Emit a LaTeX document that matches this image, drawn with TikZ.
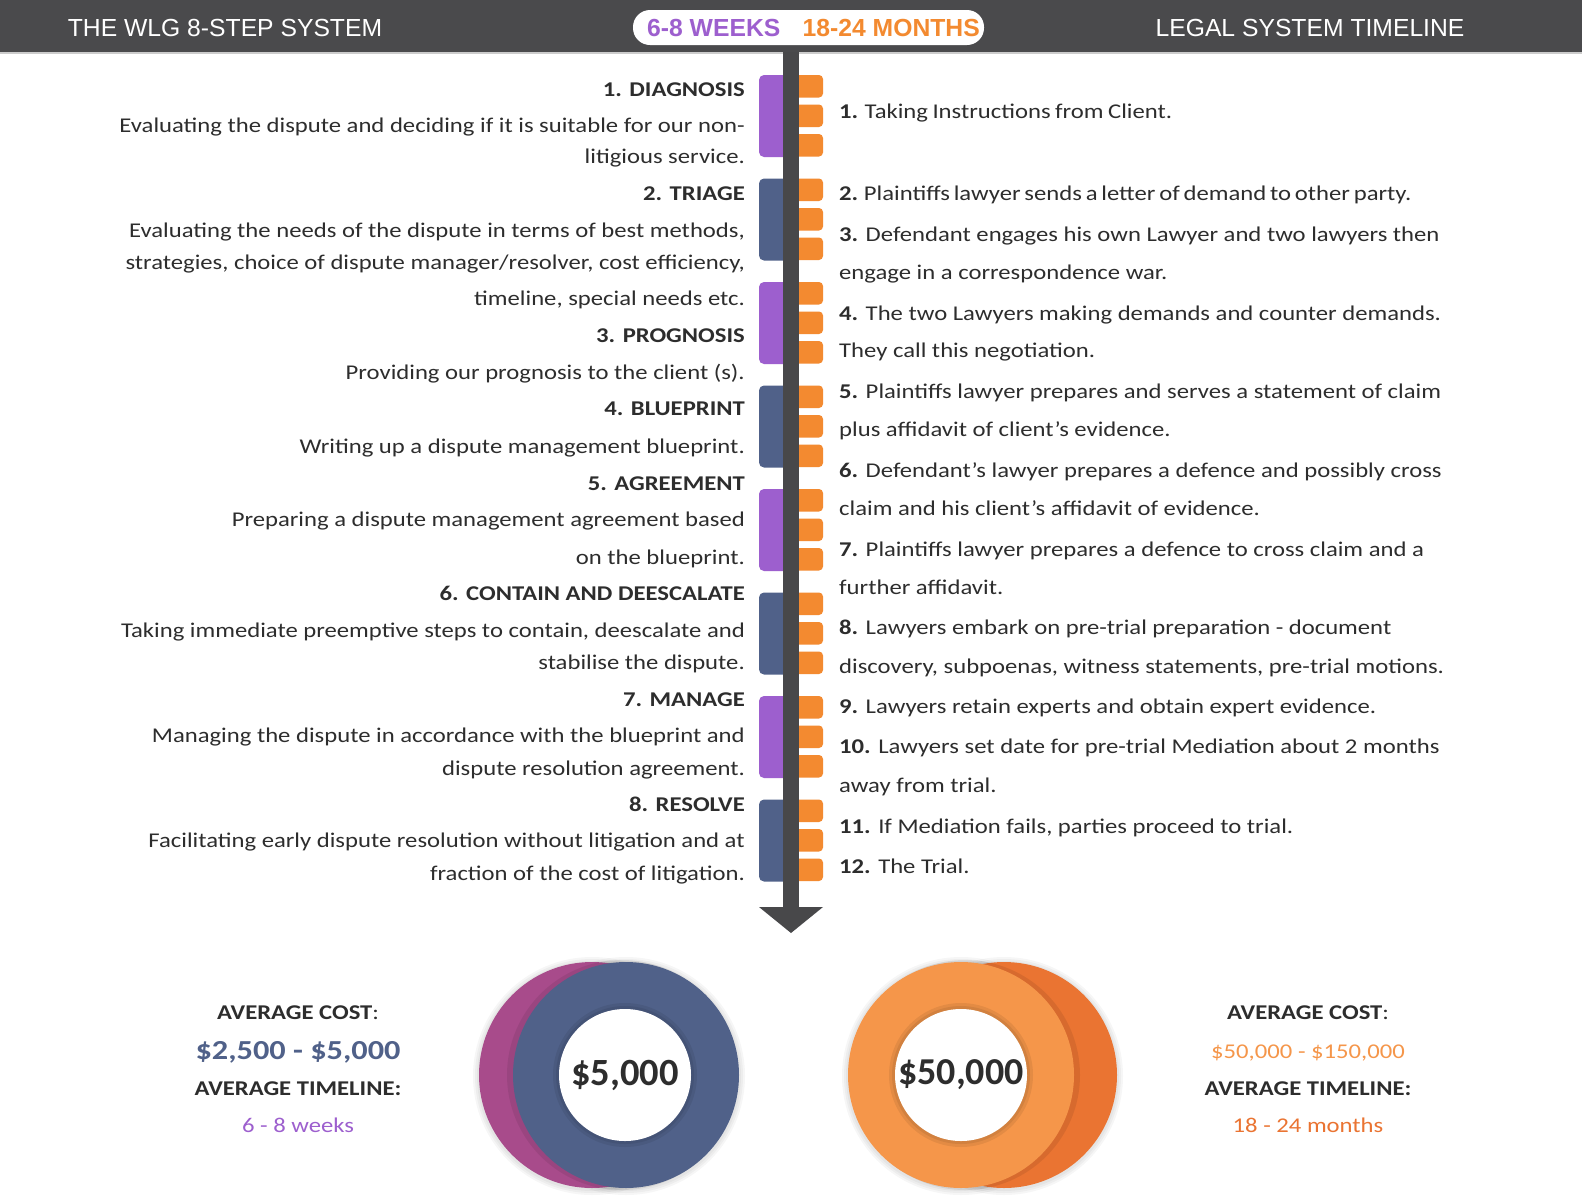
\documentclass[tikz,border=0pt]{standalone}
\usepackage{fontspec}
\setmainfont{Carlito}[FakeStretch=1.175]
\newfontfamily\ringfont{Carlito}
\newfontfamily\headfont{Liberation Sans}
\definecolor{bargray}{RGB}{74, 74, 76}
\definecolor{spinegray}{RGB}{72, 72, 74}
\definecolor{wlgpurple}{RGB}{157, 95, 206}
\definecolor{wlgblue}{RGB}{80, 97, 137}
\definecolor{wlgmagenta}{RGB}{168, 75, 139}
\definecolor{legalorange}{RGB}{243, 138, 48}
\definecolor{lightorange}{RGB}{245, 150, 74}
\definecolor{darkorange}{RGB}{234, 116, 50}
\definecolor{textdark}{RGB}{45, 45, 45}
\usetikzlibrary{positioning}
\tikzset{
	headtext/.style={text=white, inner sep=0pt, font=\headfont\fontsize{24.7}{28}\selectfont},
	pilltext/.style={inner sep=0pt, font=\headfont\bfseries\fontsize{24.7}{28}\selectfont},
	steptitle/.style={anchor=base east, inner sep=0pt, text=textdark, font=\bfseries\fontsize{21}{24}\selectfont},
	stepline/.style={anchor=base east, inner sep=0pt, text=textdark, font=\fontsize{21}{24}\selectfont},
	legalline/.style={anchor=base west, inner sep=0pt, text=textdark, font=\fontsize{21}{24}\selectfont},
	costhead/.style={anchor=base, inner sep=0pt, text=textdark, font=\bfseries\fontsize{21}{24}\selectfont},
	costvalue/.style={anchor=base, inner sep=0pt, font=\fontsize{21}{24}\selectfont},
	ringlabel/.style={inner sep=0pt, text=textdark, font=\ringfont\bfseries\fontsize{38.5}{42}\selectfont},
	ringshadow/.style={fill=black, opacity=0.035},
}

\begin{document}
\begin{tikzpicture}[x=1pt, y=-1pt]
	\useasboundingbox (0,0) rectangle (1582,1200);
	\fill[white] (0,0) rectangle (1582,1200);
	% header bar
	\fill[bargray] (0,0) rectangle (1582,52);
	\draw[black!20, line width=1.5pt] (0,53) -- (1582,53);
	\node[headtext] (wlghead) at (225,28) {THE WLG 8-STEP SYSTEM};
	\node[headtext] (legalhead) at (1310,28) {LEGAL SYSTEM TIMELINE};
	\fill[white, rounded corners=17pt] (633,10) rectangle (984,45);
	\node[pilltext, text=wlgpurple, anchor=west] (weeks) at (647,28) {6-8 WEEKS};
	\node[pilltext, text=legalorange, right=22pt of weeks] (months) {18-24 MONTHS};

	% blocks either side of the spine
	\foreach \i/\c in {0/wlgpurple, 1/wlgblue, 2/wlgpurple, 3/wlgblue, 4/wlgpurple, 5/wlgblue, 6/wlgpurple, 7/wlgblue} {
		\pgfmathsetmacro\top{75+103.5*\i}
		\fill[\c, rounded corners=5pt] (759,\top) rectangle (792,{\top+82});
		\foreach \j in {0,1,2}
			\fill[legalorange, rounded corners=4pt] (790,{\top+29.5*\j}) rectangle (823,{\top+29.5*\j+22.5});
	}
	\fill[spinegray] (783,52) rectangle (799,907);
	\fill[spinegray] (759,907) -- (823,907) -- (791,933) -- cycle;

	% the WLG steps
	\node[steptitle] (s1) at (745,96) {1. DIAGNOSIS};
	\node[stepline] (s1a) at (745,132) {Evaluating the dispute and deciding if it is suitable for our non-};
	\node[stepline] (s1b) at (745,163.5) {litigious service.};
	\node[steptitle] (s2) at (745,200) {2. TRIAGE};
	\node[stepline] (s2a) at (745,237) {Evaluating the needs of the dispute in terms of best methods,};
	\node[stepline] (s2b) at (745,269.5) {strategies, choice of dispute manager/resolver, cost efficiency,};
	\node[stepline] (s2c) at (745,305.5) {timeline, special needs etc.};
	\node[steptitle] (s3) at (745,342) {3. PROGNOSIS};
	\node[stepline] (s3a) at (745,379) {Providing our prognosis to the client (s).};
	\node[steptitle] (s4) at (745,415.5) {4. BLUEPRINT};
	\node[stepline] (s4a) at (745,453) {Writing up a dispute management blueprint.};
	\node[steptitle] (s5) at (745,490.5) {5. AGREEMENT};
	\node[stepline] (s5a) at (745,526.5) {Preparing a dispute management agreement based};
	\node[stepline] (s5b) at (745,564) {on the blueprint.};
	\node[steptitle] (s6) at (745,600.5) {6. CONTAIN AND DEESCALATE};
	\node[stepline] (s6a) at (745,637.5) {Taking immediate preemptive steps to contain, deescalate and};
	\node[stepline] (s6b) at (745,669) {stabilise the dispute.};
	\node[steptitle] (s7) at (745,706) {7. MANAGE};
	\node[stepline] (s7a) at (745,742.5) {Managing the dispute in accordance with the blueprint and};
	\node[stepline] (s7b) at (745,775) {dispute resolution agreement.};
	\node[steptitle] (s8) at (745,811) {8. RESOLVE};
	\node[stepline] (s8a) at (745,847.5) {Facilitating early dispute resolution without litigation and at};
	\node[stepline] (s8b) at (745,880) {fraction of the cost of litigation.};

	% the legal timeline
	\node[legalline] (l1) at (839,118) {\spaceskip=4.5pt\relax\textbf{1.} Taking Instructions from Client.};
	\node[legalline] (l2) at (839,200.5) {\spaceskip=3.8pt\relax\textbf{2.} Plaintiffs lawyer sends a letter of demand to other party.};
	\node[legalline] (l3a) at (839,241) {\textbf{3.} Defendant engages his own Lawyer and two lawyers then};
	\node[legalline] (l3b) at (839,279.5) {engage in a correspondence war.};
	\node[legalline] (l4a) at (839,320) {\textbf{4.} The two Lawyers making demands and counter demands.};
	\node[legalline] (l4b) at (839,357) {They call this negotiation.};
	\node[legalline] (l5a) at (839,398.5) {\textbf{5.} Plaintiffs lawyer prepares and serves a statement of claim};
	\node[legalline] (l5b) at (839,436) {plus affidavit of client's evidence.};
	\node[legalline] (l6a) at (839,477) {\textbf{6.} Defendant's lawyer prepares a defence and possibly cross};
	\node[legalline] (l6b) at (839,515.5) {claim and his client's affidavit of evidence.};
	\node[legalline] (l7a) at (839,556) {\textbf{7.} Plaintiffs lawyer prepares a defence to cross claim and a};
	\node[legalline] (l7b) at (839,594) {further affidavit.};
	\node[legalline] (l8a) at (839,634.5) {\textbf{8.} Lawyers embark on pre-trial preparation - document};
	\node[legalline] (l8b) at (839,673) {discovery, subpoenas, witness statements, pre-trial motions.};
	\node[legalline] (l9) at (839,713.5) {\textbf{9.} Lawyers retain experts and obtain expert evidence.};
	\node[legalline] (l10a) at (839,753.5) {\textbf{10.} Lawyers set date for pre-trial Mediation about 2 months};
	\node[legalline] (l10b) at (839,792) {away from trial.};
	\node[legalline] (l11) at (839,833.5) {\textbf{11.} If Mediation fails, parties proceed to trial.};
	\node[legalline] (l12) at (839,873.5) {\textbf{12.} The Trial.};

	% WLG cost ring
	\foreach \r in {119,117,115} {
		\fill[ringshadow] (592,1076) circle (\r);
		\fill[ringshadow] (626,1076) circle (\r);
	}
	\fill[wlgmagenta] (592,1075) circle (113);
	\fill[black, opacity=0.08] (622,1075) circle (115);
	\fill[wlgblue] (626,1075) circle (113);
	\fill[black, opacity=0.07] (625,1075) circle (72);
	\fill[black, opacity=0.07] (625,1075) circle (69);
	\fill[white] (625,1075) circle (66);
	\node[ringlabel] (wlgcost) at (625,1075) {\$5,000};

	% legal cost ring
	\foreach \r in {119,117,115} {
		\fill[ringshadow] (1004,1076) circle (\r);
		\fill[ringshadow] (961,1076) circle (\r);
	}
	\fill[darkorange] (1004,1075) circle (113);
	\fill[black, opacity=0.08] (965,1075) circle (115);
	\fill[lightorange] (961,1075) circle (113);
	\fill[black, opacity=0.07] (961,1075) circle (72);
	\fill[black, opacity=0.07] (961,1075) circle (69);
	\fill[white] (961,1075) circle (66);
	\node[ringlabel, font=\ringfont\bfseries\fontsize{38}{42}\selectfont] (legalcost) at (961,1075) {\$50,000};

	% averages
	\node[costhead] (wlgavg) at (298,1019) {AVERAGE COST\textmd{:}};
	\node[costvalue, text=wlgblue, font=\bfseries\fontsize{27.5}{32}\selectfont] (wlgrange) at (298,1059) {\$2,500 - \$5,000};
	\node[costhead] (wlgtime) at (298,1095) {AVERAGE TIMELINE:};
	\node[costvalue, text=wlgpurple] (wlgweeks) at (298,1132) {6 - 8 weeks};
	\node[costhead] (legalavg) at (1308,1019) {AVERAGE COST\textmd{:}};
	\node[costvalue, text=lightorange] (legalrange) at (1308,1058) {\$50,000 - \$150,000};
	\node[costhead] (legaltime) at (1308,1095) {AVERAGE TIMELINE:};
	\node[costvalue, text=darkorange] (legalmonths) at (1308,1132) {18 - 24 months};
\end{tikzpicture}
\end{document}
